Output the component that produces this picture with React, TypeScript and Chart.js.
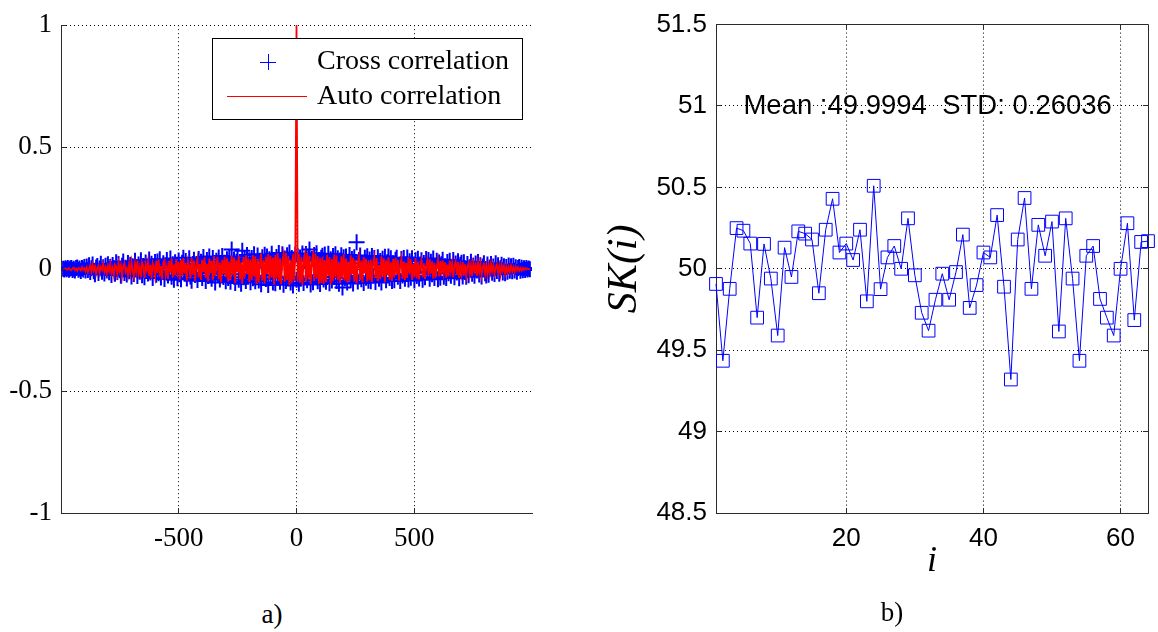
import React, { useEffect, useRef } from "react";
import { Chart, registerables } from "chart.js";

Chart.register(...registerables);

// ---------- Panel a) data (lags -990 ... 990, step 5) ----------
const LAG_START = -990;
const LAG_STEP = 5;
const CROSS_CORR = [
  .001, -.002, .003, -.001, .004, -.003, .002, .005, -.004, .001, -.006, .004, .007, -.003, .002, -.008, .005, -.002, .009, -.006,
  .011, -.004, .016, -.012, .003, .019, -.009, -.021, .007, .013, -.016, .002, .022, -.011, .008, -.018, .014, -.006, .020, -.013,
  .009, -.024, .017, .004, -.019, .028, -.012, .021, -.005, -.027, .014, .031, -.016, .006, -.022, .025, -.009, .018, -.030, .012,
  -.020, .034, .008, -.028, .019, -.011, .036, -.025, .013, -.033, .027, .002, -.018, .039, -.014, .022, -.036, .010, .029, -.023,
  .031, -.017, .040, -.034, .006, .024, -.041, .015, .037, -.026, -.009, .043, -.031, .020, -.044, .028, .011, -.038, .035, -.021,
  -.042, .026, .047, -.015, .033, -.039, .012, .044, -.030, -.048, .021, .038, -.024, .007, -.045, .041, -.018, .030, -.036, .050,
  .016, -.049, .037, -.028, .052, -.011, -.040, .045, .023, -.055, .034, -.019, .048, -.043, .009, .054, -.032, .026, -.050, .040,
  -.036, .047, -.052, .080, -.021, .039, -.057, .030, .051, -.044, .014, -.060, .075, -.033, .042, -.049, .058, -.026, .036, -.054,
  .045, -.038, .061, -.050, .019, .056, -.047, .034, -.062, .049, -.027, .059, -.041, .052, -.065, .040, -.024, .063, -.055, .031,
  -.058, .050, -.036, .066, -.052, .027, .061, -.064, .043, -.049, .057, -.031, .068, -.055, .046, -.067, .038, .059, -.044, .053,
  -.060, .048, -.039, .064, -.057, .033, .062, -.046, .051, .080, -.063, .041, -.054, .058, -.029, .065, -.050, .037, -.061, .047,
  .055, -.043, .060, -.052, .026, .063, -.058, .040, -.047, .054, -.032, .061, -.049, .044, -.060, .035, .057, -.075, .049, -.038,
  .052, -.055, .030, .058, -.046, .041, -.059, .049, -.028, .110, -.051, .037, .056, -.042, .024, -.057, .047, -.035, .053, -.048,
  .039, -.050, .054, -.027, .045, -.053, .018, .049, -.040, .033, -.055, .042, -.021, .051, -.046, .028, .052, -.037, .044, -.049,
  .024, -.046, .038, .047, -.031, .015, -.049, .041, -.026, .045, -.040, .020, .048, -.043, .032, -.035, .044, -.017, -.047, .036,
  -.028, .042, -.039, .019, .036, -.044, .025, -.033, .041, -.012, .037, -.040, .030, -.021, .043, -.036, .009, .034, -.042, .027,
  -.035, .020, .038, -.031, .012, -.036, .029, -.017, .034, -.027, .005, .037, -.033, .023, -.014, .032, -.038, .018, .026, -.030,
  .028, -.012, -.031, .021, -.025, .008, .030, -.019, .014, -.027, .023, -.006, .029, -.022, .016, -.030, .011, .024, -.017, -.026,
  .019, -.023, .007, .021, -.015, .011, -.020, .024, -.008, .016, -.019, .003, .018, -.014, .012, -.017, .009, -.011, .015, -.007,
  .012, -.009, .014, -.006, .008, -.011, .004, .009, -.007, .006, -.005, .003, -.004, .005, -.002, .002, -.001,
];
const AUTO_CORR = [
  -.002, .001, .003, -.003, .000, .004, -.002, -.005, .003, .006, -.004, .002, -.007, .005, .001, -.006, .008, -.003, .004, -.009,
  .007, -.013, .002, .015, -.010, .018, -.005, .011, -.019, .004, .014, -.016, .009, -.002, .020, -.012, .006, -.017, .013, -.008,
  .022, -.015, .005, -.026, .018, .010, -.021, .027, -.007, .016, -.030, .013, .024, -.011, .003, -.025, .019, -.017, .029, -.006,
  -.031, .023, -.012, .035, -.019, .007, -.033, .028, .014, -.036, .020, -.004, .032, -.027, .017, -.038, .025, .009, -.029, .034,
  -.016, .039, -.030, .013, -.042, .027, .036, -.022, .008, -.040, .033, -.014, .044, -.035, .019, -.026, .041, -.010, .030, -.043,
  .037, -.028, .045, -.018, .025, -.047, .032, .010, -.039, .046, -.023, .035, -.049, .015, .042, -.034, .021, -.044, .038, -.012,
  .048, -.037, .022, -.051, .043, -.016, .034, -.046, .053, -.029, .011, .049, -.041, .027, -.055, .038, -.020, .050, -.033, .044,
  -.052, .031, -.045, .056, -.024, .047, -.058, .036, -.013, .054, -.042, .028, -.060, .049, -.035, .057, -.019, .044, -.053, .039,
  -.046, .058, -.030, .052, -.061, .041, -.054, .025, .063, -.048, .036, -.059, .050, -.021, .062, -.043, .055, -.034, .047, -.064,
  .057, -.039, .065, -.051, .044, -.062, .030, .059, -.053, .067, -.045, .052, -.066, .038, -.058, .061, -.047, .054, 1, -.050,
  .063, -.056, .048, -.064, .035, .060, -.052, .066, -.041, .055, -.062, .029, .058, -.049, .064, -.037, .053, -.060, .045, -.057,
  .050, -.061, .037, -.054, .059, -.028, .047, -.063, .041, -.050, .060, -.034, .056, -.045, .026, -.058, .052, -.039, .061, -.048,
  .043, -.055, .031, -.049, .057, -.022, .046, -.052, .038, -.058, .027, .053, -.044, .035, -.056, .049, -.018, .042, -.051, .033,
  -.047, .039, -.053, .024, .050, -.036, .045, -.050, .017, -.041, .052, -.030, .044, -.054, .036, -.025, .048, -.043, .029, -.049,
  .041, -.034, .046, -.022, .038, -.047, .013, .043, -.039, .031, -.045, .026, -.036, .048, -.018, .040, -.044, .021, -.032, .045,
  -.038, .030, -.042, .016, .037, -.033, .024, -.040, .011, .035, -.028, .041, -.019, .032, -.039, .026, -.036, .009, .038, -.030,
  .033, -.025, .036, -.014, .028, -.035, .019, -.030, .035, -.008, .026, -.033, .015, .031, -.024, .029, -.036, .012, -.021, .030,
  -.027, .020, -.030, .011, .026, -.022, .015, -.029, .024, -.006, .018, -.028, .025, -.013, .022, -.026, .009, .021, -.019, .016,
  -.021, .014, -.018, .022, -.009, .016, -.020, .005, .019, -.015, .011, -.022, .017, -.006, .013, -.018, .010, -.014, .008, -.012,
  .013, -.010, .007, -.012, .009, -.005, .008, -.007, .004, -.006, .005, -.003, .004, -.002, .002, -.001, .001,
];
const LAGS = CROSS_CORR.map((_, i) => LAG_START + i * LAG_STEP);
const LEFT_X_TICKS = [-500, 0, 500];
const LEFT_Y_TICKS = [-1, -0.5, 0, 0.5, 1];
const LEFT_LABELS = ["Cross correlation", "Auto correlation"];

// ---------- Panel b) data ----------
const SK_VALUES = [
  49.907, 49.435, 49.877, 50.25, 50.234, 50.155, 49.70, 50.153, 49.94, 49.59,
  50.13, 49.95, 50.23, 50.216, 50.18, 49.85, 50.24, 50.43, 50.10, 50.155,
  50.054, 50.24, 49.80, 50.51, 49.875, 50.07, 50.14, 50.00, 50.31, 49.96,
  49.73, 49.62, 49.81, 49.97, 49.81, 49.98, 50.21, 49.76, 49.90, 50.10,
  50.07, 50.33, 49.89, 49.32, 50.18, 50.435, 49.877, 50.27, 50.08, 50.29,
  49.615, 50.31, 49.94, 49.435, 50.08, 50.14, 49.815, 49.70, 49.59, 50.00,
  50.28, 49.685, 50.165, 50.17,
];
const SK_INDEX = SK_VALUES.map((_, i) => i + 1);
const RIGHT_X_TICKS = [20, 40, 60];
const RIGHT_Y_TICKS = [48.5, 49, 49.5, 50, 50.5, 51, 51.5];
const STATS_TEXT = "Mean :49.9994  STD: 0.26036";
const STATS_AT = { x: 5, y: 51 };
const Y_TITLE = "SK(i)";
const X_TITLE = "i";
const CAPTIONS = ["a)", "b)"];

const SERIF = "'Liberation Serif', 'Times New Roman', serif";
const SANS = "'Liberation Sans', Arial, sans-serif";
const AXIS_COLOR = "#2b2b2b";

function fixedTicks(values: number[]) {
  return (scale: any) => {
    scale.ticks = values.map((v) => ({ value: v }));
  };
}
const plainLabel = (v: any) => String(v);

function align(p: number) {
  return Math.round(p - 0.5) + 0.5;
}

function framePlugin(box: boolean) {
  return {
    id: "frame" + (box ? "Box" : "Open"),
    afterDraw(chart: any) {
      const { ctx, chartArea: a, scales } = chart;
      const L = 5;
      ctx.save();
      ctx.strokeStyle = AXIS_COLOR;
      ctx.lineWidth = 1;
      ctx.setLineDash([]);
      ctx.beginPath();
      for (const t of scales.x.ticks) {
        const px = align(scales.x.getPixelForValue(t.value));
        ctx.moveTo(px, a.bottom);
        ctx.lineTo(px, a.bottom - L);
        if (box) {
          ctx.moveTo(px, a.top);
          ctx.lineTo(px, a.top + L);
        }
      }
      for (const t of scales.y.ticks) {
        const py = align(scales.y.getPixelForValue(t.value));
        ctx.moveTo(a.left, py);
        ctx.lineTo(a.left + L, py);
        if (box) {
          ctx.moveTo(a.right, py);
          ctx.lineTo(a.right - L, py);
        }
      }
      if (box) {
        const t = align(a.top);
        const r = align(a.right);
        ctx.moveTo(a.left, t);
        ctx.lineTo(r, t);
        ctx.lineTo(r, a.bottom);
      }
      ctx.stroke();
      ctx.restore();
    },
  };
}

const legendPlugin = {
  id: "boxLegend",
  afterDraw(chart: any) {
    const { ctx, chartArea } = chart;
    const w = 310;
    const h = 81;
    const right = chartArea.right - 10;
    const top = Math.round(chartArea.top + 13);
    const left = Math.round(right - w);
    const ds = chart.data.datasets;
    ctx.save();
    ctx.fillStyle = "#ffffff";
    ctx.fillRect(left, top, w, h);
    ctx.strokeStyle = "#000";
    ctx.lineWidth = 1;
    ctx.strokeRect(left + 0.5, top + 0.5, w, h);
    const cx = left + 56;
    const cy = top + 24;
    ctx.strokeStyle = ds[0].borderColor;
    ctx.beginPath();
    ctx.moveTo(cx - 8, cy + 0.5);
    ctx.lineTo(cx + 8, cy + 0.5);
    ctx.moveTo(cx + 0.5, cy - 8);
    ctx.lineTo(cx + 0.5, cy + 8);
    ctx.stroke();
    ctx.strokeStyle = ds[1].borderColor;
    ctx.beginPath();
    ctx.moveTo(left + 15, top + 58.5);
    ctx.lineTo(left + 95, top + 58.5);
    ctx.stroke();
    ctx.fillStyle = "#000";
    ctx.font = `28px ${SERIF}`;
    ctx.textAlign = "left";
    ctx.textBaseline = "middle";
    ctx.fillText(ds[0].label, left + 105, top + 24);
    ctx.fillText(ds[1].label, left + 105, top + 59);
    ctx.restore();
  },
};

const statsPlugin = {
  id: "stats",
  afterDatasetsDraw(chart: any) {
    const { ctx, scales } = chart;
    ctx.save();
    ctx.fillStyle = "#000";
    ctx.font = `27.5px ${SANS}`;
    ctx.textAlign = "left";
    ctx.textBaseline = "middle";
    ctx.fillText(
      STATS_TEXT,
      scales.x.getPixelForValue(STATS_AT.x),
      scales.y.getPixelForValue(STATS_AT.y)
    );
    ctx.restore();
  },
};

function LeftChart() {
  const ref = useRef<HTMLCanvasElement>(null);
  useEffect(() => {
    const chart = new Chart(ref.current as HTMLCanvasElement, {
      type: "scatter",
      data: {
        datasets: [
          {
            label: LEFT_LABELS[0],
            data: LAGS.map((x, i) => ({ x, y: CROSS_CORR[i] })),
            showLine: false,
            pointStyle: "cross",
            pointRadius: 8,
            pointBorderWidth: 2,
            borderColor: "#0000ff",
            backgroundColor: "#0000ff",
            order: 2,
          } as any,
          {
            label: LEFT_LABELS[1],
            data: LAGS.map((x, i) => ({ x, y: AUTO_CORR[i] })),
            showLine: true,
            pointRadius: 0,
            borderColor: "#ff0000",
            backgroundColor: "#ff0000",
            borderWidth: 1.8,
            order: 1,
          } as any,
        ],
      },
      options: {
        responsive: false,
        animation: false,
        events: [],
        layout: { padding: { left: 0, top: 16, right: 28, bottom: 0 } },
        plugins: { legend: { display: false }, tooltip: { enabled: false } },
        scales: {
          x: {
            type: "linear",
            min: -999,
            max: 999,
            afterBuildTicks: fixedTicks(LEFT_X_TICKS),
            afterFit: (s: any) => {
              s.height = 47;
            },
            grid: { color: "#000", lineWidth: 1, drawTicks: false },
            border: { color: AXIS_COLOR, width: 1, dash: [1, 3] },
            ticks: {
              color: "#000",
              font: { family: SERIF, size: 27 },
              padding: 10,
              maxRotation: 0,
              autoSkip: false,
              callback: plainLabel,
            },
          },
          y: {
            type: "linear",
            min: -1,
            max: 1,
            afterBuildTicks: fixedTicks(LEFT_Y_TICKS),
            afterFit: (s: any) => {
              s.width = 61;
            },
            grid: { color: "#000", lineWidth: 1, drawTicks: false },
            border: { color: AXIS_COLOR, width: 1, dash: [1, 3] },
            ticks: {
              color: "#000",
              font: { family: SERIF, size: 27 },
              padding: 9,
              autoSkip: false,
              callback: plainLabel,
            },
          },
        },
      } as any,
      plugins: [framePlugin(false), legendPlugin],
    });
    return () => chart.destroy();
  }, []);
  return (
    <canvas
      ref={ref}
      width={560}
      height={560}
      style={{ position: "absolute", left: 0, top: 0, width: 560, height: 560 }}
    />
  );
}

function RightChart() {
  const ref = useRef<HTMLCanvasElement>(null);
  useEffect(() => {
    const chart = new Chart(ref.current as HTMLCanvasElement, {
      type: "line",
      data: {
        datasets: [
          {
            label: Y_TITLE,
            data: SK_INDEX.map((x, i) => ({ x, y: SK_VALUES[i] })),
            borderColor: "#0000ff",
            borderWidth: 1,
            pointStyle: "rect",
            pointRadius: 9,
            pointBorderWidth: 1,
            pointBorderColor: "#0000ff",
            pointBackgroundColor: "rgba(0,0,0,0)",
            tension: 0,
            clip: false,
          } as any,
        ],
      },
      options: {
        responsive: false,
        animation: false,
        events: [],
        layout: { padding: { left: 0, top: 16, right: 7, bottom: 0 } },
        plugins: { legend: { display: false }, tooltip: { enabled: false } },
        scales: {
          x: {
            type: "linear",
            min: 1,
            max: 64,
            afterBuildTicks: fixedTicks(RIGHT_X_TICKS),
            afterFit: (s: any) => {
              s.height = 87;
            },
            grid: { color: "#000", lineWidth: 1, drawTicks: false },
            border: { color: AXIS_COLOR, width: 1, dash: [1, 3] },
            ticks: {
              color: "#000",
              font: { family: SANS, size: 26 },
              padding: 10,
              maxRotation: 0,
              autoSkip: false,
              callback: plainLabel,
            },
            title: {
              display: true,
              text: X_TITLE,
              color: "#000",
              font: { family: SERIF, size: 36, style: "italic" },
              padding: { top: 0, bottom: 17 },
            },
          },
          y: {
            type: "linear",
            min: 48.5,
            max: 51.5,
            afterBuildTicks: fixedTicks(RIGHT_Y_TICKS),
            afterFit: (s: any) => {
              s.width = 136;
            },
            grid: { color: "#000", lineWidth: 1, drawTicks: false },
            border: { color: AXIS_COLOR, width: 1, dash: [1, 3] },
            ticks: {
              color: "#000",
              font: { family: SANS, size: 26 },
              padding: 9,
              autoSkip: false,
              callback: plainLabel,
            },
            title: {
              display: true,
              text: Y_TITLE,
              color: "#000",
              font: { family: SERIF, size: 42, style: "italic" },
              padding: { top: 20, bottom: 0 },
            },
          },
        },
      } as any,
      plugins: [framePlugin(true), statsPlugin],
    });
    return () => chart.destroy();
  }, []);
  return (
    <canvas
      ref={ref}
      width={578}
      height={600}
      style={{ position: "absolute", left: 580, top: 0, width: 578, height: 600 }}
    />
  );
}

export default function App() {
  const captionStyle: React.CSSProperties = {
    position: "absolute",
    width: 100,
    textAlign: "center",
    fontFamily: SERIF,
    fontSize: 27,
    lineHeight: "30px",
    color: "#000",
  };
  return (
    <div
      style={{
        position: "absolute",
        left: 0,
        top: 0,
        width: 1158,
        height: 632,
        background: "#fff",
        overflow: "hidden",
      }}
    >
      <LeftChart />
      <RightChart />
      <div style={{ ...captionStyle, left: 222, top: 599 }}>{CAPTIONS[0]}</div>
      <div style={{ ...captionStyle, left: 842, top: 597 }}>{CAPTIONS[1]}</div>
    </div>
  );
}
